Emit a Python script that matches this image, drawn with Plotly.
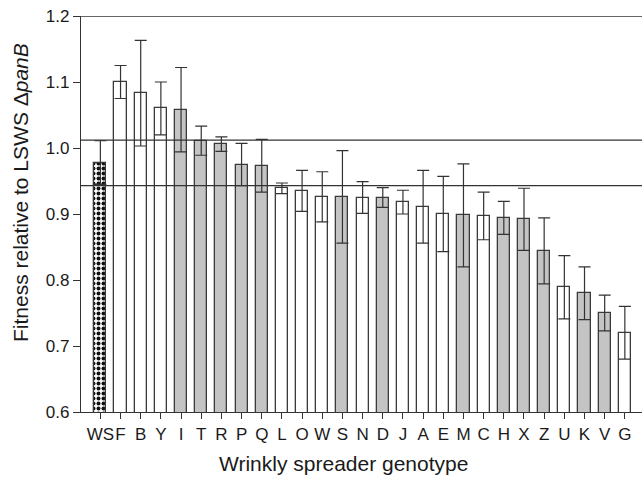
import plotly.graph_objects as go

genotypes = ["WS", "F", "B", "Y", "I", "T", "R", "P", "Q", "L", "O", "W", "S", "N",
             "D", "J", "A", "E", "M", "C", "H", "X", "Z", "U", "K", "V", "G"]
fitness = [0.978, 1.100, 1.083, 1.060, 1.058, 1.011, 1.006, 0.975, 0.973, 0.939,
           0.935, 0.926, 0.926, 0.925, 0.925, 0.918, 0.911, 0.900, 0.898, 0.897,
           0.894, 0.892, 0.844, 0.789, 0.780, 0.750, 0.720]
errors = [0.033, 0.025, 0.080, 0.040, 0.064, 0.022, 0.011, 0.032, 0.040, 0.008,
          0.031, 0.038, 0.070, 0.024, 0.015, 0.018, 0.055, 0.057, 0.078, 0.036,
          0.025, 0.047, 0.050, 0.048, 0.040, 0.027, 0.040]
groups = ["ancestor", "white", "white", "white", "grey", "grey", "grey", "grey", "grey",
          "white", "white", "white", "grey", "white", "grey", "white", "white", "white",
          "grey", "white", "grey", "grey", "grey", "white", "grey", "grey", "white"]
reference_lines = [1.012, 0.943]
y_ticks = [0.6, 0.7, 0.8, 0.9, 1.0, 1.1, 1.2]

fill_map = {"ancestor": "#111111", "white": "#ffffff", "grey": "#c4c4c4"}
colors = [fill_map[g] for g in groups]
shapes_pat = ["." if g == "ancestor" else "" for g in groups]

xs = list(range(len(genotypes)))
ink = "#333333"

fig = go.Figure()
fig.add_trace(go.Bar(
    x=xs, y=fitness, base=0,
    width=0.6,
    marker=dict(
        color=colors,
        line=dict(color="#3a3a3a", width=1.3),
        pattern=dict(shape=shapes_pat, fgcolor="#ffffff", bgcolor="#111111",
                     size=5, solidity=0.5, fillmode="replace"),
    ),
    error_y=dict(type="data", array=errors, visible=True, color=ink,
                 thickness=1.2, width=6),
    showlegend=False,
))

shapes = [dict(type="line", xref="paper", x0=0, x1=1, yref="y", y0=1.2, y1=1.2,
               line=dict(color=ink, width=1.3), layer="above")]
for v in reference_lines:
    shapes.append(dict(type="line", xref="paper", x0=0, x1=1, yref="y", y0=v, y1=v,
                       line=dict(color=ink, width=1.3), layer="above"))

fig.update_layout(
    width=642, height=477,
    margin=dict(l=81, r=0, t=16, b=65),
    plot_bgcolor="white", paper_bgcolor="white",
    font=dict(family="Liberation Sans, Arial, sans-serif", color="#1a1a1a", size=17),
    shapes=shapes,
    bargap=0,
    annotations=[
        dict(text="Wrinkly spreader genotype", xref="paper", yref="paper",
             x=0.468, y=-0.129, xanchor="center", yanchor="middle",
             showarrow=False, font=dict(size=21)),
        dict(text="Fitness relative to LSWS Δ<i>panB</i>", xref="paper", yref="paper",
             x=-0.108, y=0.554, xanchor="center", yanchor="middle", textangle=-90,
             showarrow=False, font=dict(size=21)),
    ],
)
fig.update_xaxes(
    range=[-0.96, 26.85], tickmode="array", tickvals=xs, ticktext=genotypes,
    tickangle=0,
    showline=True, linecolor=ink, linewidth=1.3, ticks="outside", ticklen=6,
    tickcolor=ink, tickwidth=1.2, showgrid=False, zeroline=False,
    tickfont=dict(size=17),
)
fig.update_yaxes(
    range=[0.6, 1.2], tickmode="array", tickvals=y_ticks,
    ticktext=[f"{t:.1f}" for t in y_ticks],
    showline=True, linecolor=ink, linewidth=1.3, ticks="outside", ticklen=7,
    tickcolor=ink, tickwidth=1.2, showgrid=False, zeroline=False,
    tickfont=dict(size=17),
)

fig.write_html("out.html", config={"displayModeBar": False},
               post_script="document.body.style.margin='0';")
